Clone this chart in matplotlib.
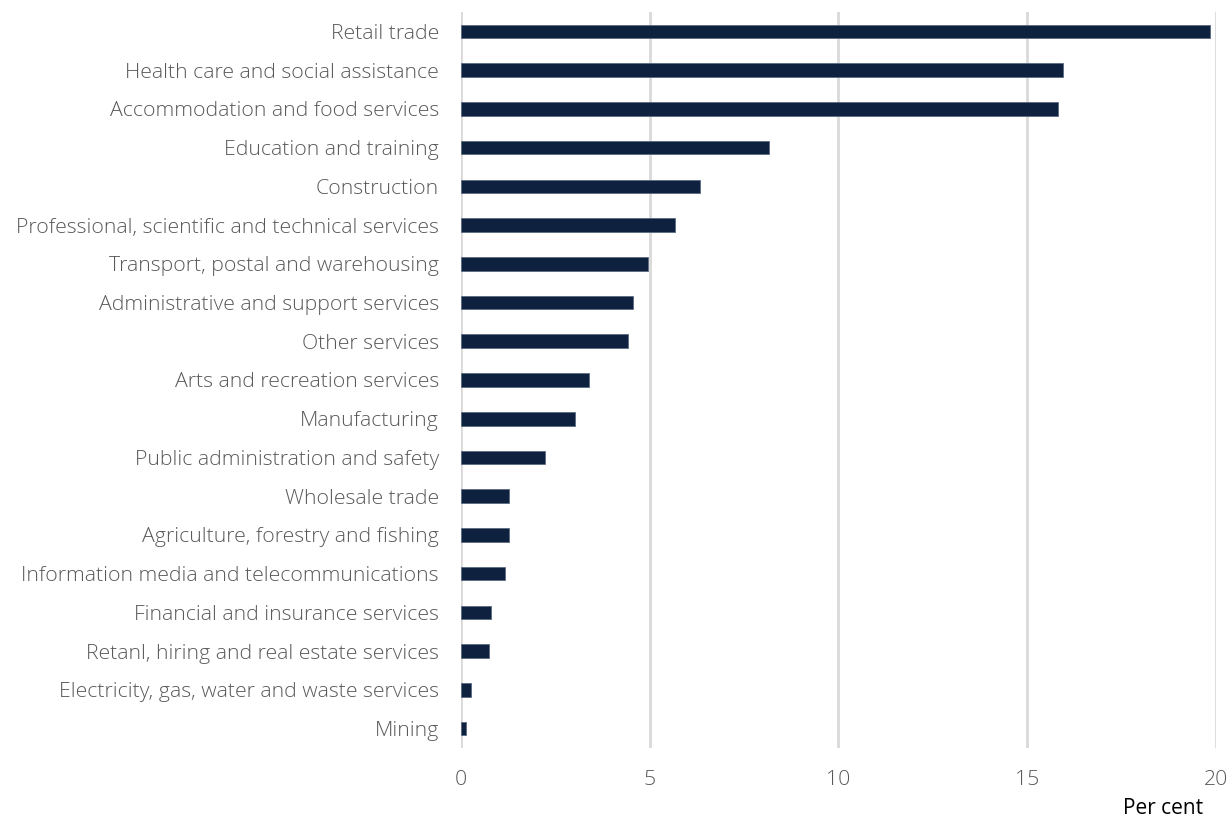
import matplotlib.pyplot as plt

categories = [
    "Retail trade",
    "Health care and social assistance",
    "Accommodation and food services",
    "Education and training",
    "Construction",
    "Professional, scientific and technical services",
    "Transport, postal and warehousing",
    "Administrative and support services",
    "Other services",
    "Arts and recreation services",
    "Manufacturing",
    "Public administration and safety",
    "Wholesale trade",
    "Agriculture, forestry and fishing",
    "Information media and telecommunications",
    "Financial and insurance services",
    "Retanl, hiring and real estate services",
    "Electricity, gas, water and waste services",
    "Mining",
]
values = [19.85, 15.96, 15.81, 8.16, 6.33, 5.67, 4.95, 4.56, 4.42, 3.39,
          3.02, 2.23, 1.27, 1.27, 1.17, 0.79, 0.74, 0.26, 0.14]
xticks = [0, 5, 10, 15, 20]

plt.rcParams['font.family'] = ['Open Sans', 'DejaVu Sans']

fig = plt.figure(figsize=(12.31, 8.21), dpi=100)
ax = fig.add_axes([0.3745, 0.0889, 0.6133, 0.8965])

ypos = list(range(len(categories)))
ax.barh(ypos, values, height=0.35, color='#0E2240', edgecolor='#5a6a80', linewidth=0.6, zorder=3)
ax.set_ylim(len(categories) - 0.5, -0.5)
ax.set_xlim(0, 20)
ax.set_yticks(ypos)
ax.set_yticklabels(categories, fontsize=15.3, fontweight='light', color='#595959')
ax.set_xticks(xticks)
ax.set_xticklabels([str(t) for t in xticks], fontsize=15.3, fontweight='light', color='#595959')
ax.tick_params(length=0)
ax.tick_params(axis='y', pad=16)
ax.tick_params(axis='x', pad=16)
ax.grid(axis='x', color='#D9D9D9', linewidth=2, zorder=0)
for s in ax.spines.values():
    s.set_visible(False)

fig.text(0.945, 0.003, "Per cent", fontsize=15, color='black', ha='center', va='bottom')

fig.savefig("out.png", dpi=100)
